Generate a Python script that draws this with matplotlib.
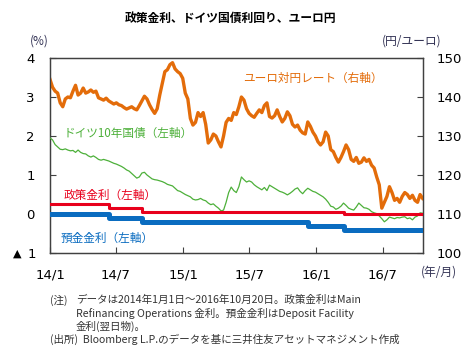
import pandas as pd
import matplotlib
matplotlib.use('Agg')
import matplotlib.pyplot as plt

plt.rcParams['font.family'] = ['Noto Sans CJK JP', 'DejaVu Sans']

# weekly readings from 2014-01-01
eurjpy = [144.5, 142.5, 141.5, 141.0, 138.5, 137.5, 139.5, 140.0, 139.8, 141.5,
          143.0, 140.5, 141.0, 142.3, 141.0, 141.3, 141.8, 141.2, 141.5, 139.8,
          139.5, 139.2, 139.7, 139.0, 138.6, 138.2, 138.5, 138.0, 137.8, 137.3,
          136.9, 137.2, 137.5, 137.0, 136.7, 137.8, 139.0, 140.2, 139.5, 138.0,
          136.8, 135.8, 137.0, 140.5, 143.5, 146.5, 147.0, 148.3, 148.8, 147.2,
          146.5, 146.0, 144.8, 141.0, 139.5, 134.5, 132.8, 133.5, 136.0, 135.0,
          136.0, 133.0, 128.2, 129.0, 130.5, 130.0, 128.5, 127.2, 130.0, 133.5,
          134.5, 134.0, 136.0, 135.5, 137.5, 140.0, 139.2, 137.0, 135.8, 135.2,
          134.8, 135.8, 136.7, 136.0, 137.8, 138.5, 135.0, 134.6, 135.2, 136.7,
          135.0, 133.6, 134.5, 136.2, 135.2, 133.0, 132.3, 132.8, 131.5, 130.8,
          130.5, 133.6, 132.5, 131.0, 130.0, 128.5, 127.7, 128.5, 131.0, 130.0,
          126.5, 126.0, 124.5, 123.3, 124.5, 126.0, 127.7, 126.5, 124.0, 123.5,
          124.5, 123.0, 123.3, 124.4, 123.5, 124.0, 122.5, 121.8, 119.5, 117.5,
          111.5, 113.0, 114.5, 117.0, 115.5, 113.5, 114.0, 113.0, 114.5, 115.5,
          115.0, 114.0, 114.8, 113.5, 113.0, 115.0, 114.0]

bund10y = [1.95, 1.90, 1.78, 1.72, 1.66, 1.65, 1.67, 1.64, 1.62, 1.63,
           1.58, 1.64, 1.58, 1.55, 1.54, 1.49, 1.46, 1.49, 1.45, 1.40,
           1.38, 1.40, 1.38, 1.36, 1.33, 1.30, 1.28, 1.25, 1.22, 1.18,
           1.13, 1.10, 1.04, 0.98, 0.92, 0.95, 1.05, 1.07, 1.00, 0.95,
           0.90, 0.88, 0.87, 0.85, 0.83, 0.80, 0.76, 0.74, 0.72, 0.66,
           0.60, 0.58, 0.54, 0.50, 0.47, 0.44, 0.38, 0.36, 0.37, 0.40,
           0.36, 0.34, 0.28, 0.24, 0.26, 0.20, 0.15, 0.08, 0.10, 0.30,
           0.55, 0.69, 0.60, 0.55, 0.70, 0.95, 0.88, 0.82, 0.85, 0.82,
           0.75, 0.70, 0.66, 0.62, 0.68, 0.60, 0.74, 0.70, 0.66, 0.62,
           0.58, 0.56, 0.53, 0.49, 0.53, 0.58, 0.64, 0.67, 0.58, 0.52,
           0.60, 0.66, 0.62, 0.58, 0.56, 0.52, 0.48, 0.44, 0.38, 0.30,
           0.20, 0.18, 0.12, 0.15, 0.20, 0.28, 0.22, 0.15, 0.12, 0.10,
           0.18, 0.28, 0.22, 0.16, 0.15, 0.12, 0.06, 0.03, 0.01, -0.05,
           -0.12, -0.20, -0.15, -0.08, -0.10, -0.12, -0.09, -0.10, -0.08, -0.07,
           -0.12, -0.10, -0.15, -0.08, -0.05, 0.03, 0.02]

week_dates = pd.date_range('2014-01-01', periods=len(eurjpy), freq='7D')

rate_dates = pd.to_datetime(['2014-01-01', '2014-06-11', '2014-09-10',
                             '2015-12-09', '2016-03-16', '2016-10-20'])
policy_rate = [0.25, 0.15, 0.05, 0.05, 0.00, 0.00]
deposit_rate = [0.00, -0.10, -0.20, -0.30, -0.40, -0.40]

left_ticks = [-1, 0, 1, 2, 3, 4]
left_labels = ['', '0', '1', '2', '3', '4']   # -1 drawn by hand as "▲ 1"
right_ticks = [100, 110, 120, 130, 140, 150]
x_ticks = pd.to_datetime(['2014-01-01', '2014-07-01', '2015-01-01',
                          '2015-07-01', '2016-01-01', '2016-07-01'])
x_labels = ['14/1', '14/7', '15/1', '15/7', '16/1', '16/7']

W, H = 476, 354
fig = plt.figure(figsize=(W / 100, H / 100), dpi=100)
ax = fig.add_axes([50 / W, 1 - 253 / H, 373 / W, 195 / H])
ax2 = ax.twinx()

ax2.plot(week_dates, eurjpy, color='#E36C0A', lw=2.4, zorder=3)
ax.plot(week_dates, bund10y, color='#4DB03A', lw=0.9, zorder=3)
ax.plot(rate_dates, policy_rate, color='#E8001C', lw=2.2, drawstyle='steps-post', zorder=4)
ax.plot(rate_dates, deposit_rate, color='#0A6CC0', lw=3.6, drawstyle='steps-post', zorder=4)

ax.set_zorder(ax2.get_zorder() + 1)
ax.patch.set_visible(False)

ax.set_xlim(pd.Timestamp('2014-01-01'), pd.Timestamp('2016-10-20'))
ax.set_ylim(-1, 4)
ax2.set_ylim(100, 150)

tick_font = {'family': 'DejaVu Sans', 'size': 9.5}
ax.set_yticks(left_ticks)
ax.set_yticklabels(left_labels, fontdict=tick_font)
ax2.set_yticks(right_ticks)
ax2.set_yticklabels([str(v) for v in right_ticks], fontdict=tick_font)
ax.set_xticks(x_ticks)
ax.set_xticklabels(x_labels, fontdict=tick_font)

# "▲ 1" for the -1 tick
fig.text(13 / W, 1 - 254 / H, '▲', fontsize=8, family='DejaVu Sans', ha='left', va='center')
fig.text(36 / W, 1 - 254 / H, '1', fontsize=9.5, family='DejaVu Sans', ha='right', va='center')

for a in (ax, ax2):
    for s in a.spines.values():
        s.set_color('#404040')
        s.set_linewidth(0.9)
ax.tick_params(axis='y', direction='in', length=4, pad=11, color='#404040')
ax.tick_params(axis='x', direction='in', length=4, pad=11, color='#404040')
ax2.tick_params(axis='y', direction='in', length=4, pad=10, color='#404040')

fig.text(231 / W, 1 - 18 / H, '政策金利、ドイツ国債利回り、ユーロ円', ha='center', va='center',
         fontsize=8.5, fontweight='bold')
fig.text(30 / W, 1 - 41 / H, '(%)', ha='left', va='center', fontsize=8.5, color='#333355')
fig.text(382 / W, 1 - 41 / H, '(円/ユーロ)', ha='left', va='center', fontsize=8.5, color='#333355')
fig.text(421 / W, 1 - 272 / H, '(年/月)', ha='left', va='center', fontsize=8.5, color='#333355')

lab_fs = 8.4
fig.text(243 / W, 1 - 78 / H, 'ユーロ対円レート（右軸）', color='#E36C0A', fontsize=lab_fs, va='center')
fig.text(64 / W, 1 - 133 / H, 'ドイツ10年国債（左軸）', color='#4DB03A', fontsize=lab_fs, va='center')
fig.text(64 / W, 1 - 195 / H, '政策金利（左軸）', color='#E8001C', fontsize=lab_fs, va='center')
fig.text(61 / W, 1 - 238 / H, '預金金利（左軸）', color='#0A6CC0', fontsize=lab_fs, va='center')

note_fs = 7.6
fig.text(50 / W, 1 - 300 / H, '(注)', fontsize=note_fs, va='center', color='#333333')
fig.text(76 / W, 1 - 300 / H, 'データは2014年1月1日～2016年10月20日。政策金利はMain',
         fontsize=note_fs, va='center', color='#333333')
fig.text(76 / W, 1 - 313 / H, 'Refinancing Operations 金利。預金金利はDeposit Facility',
         fontsize=note_fs, va='center', color='#333333')
fig.text(76 / W, 1 - 326 / H, '金利(翌日物)。', fontsize=note_fs, va='center', color='#333333')
fig.text(50 / W, 1 - 339 / H, '(出所)  Bloomberg L.P.のデータを基に三井住友アセットマネジメント作成',
         fontsize=note_fs, va='center', color='#333333')

fig.savefig('out.png', dpi=100)
